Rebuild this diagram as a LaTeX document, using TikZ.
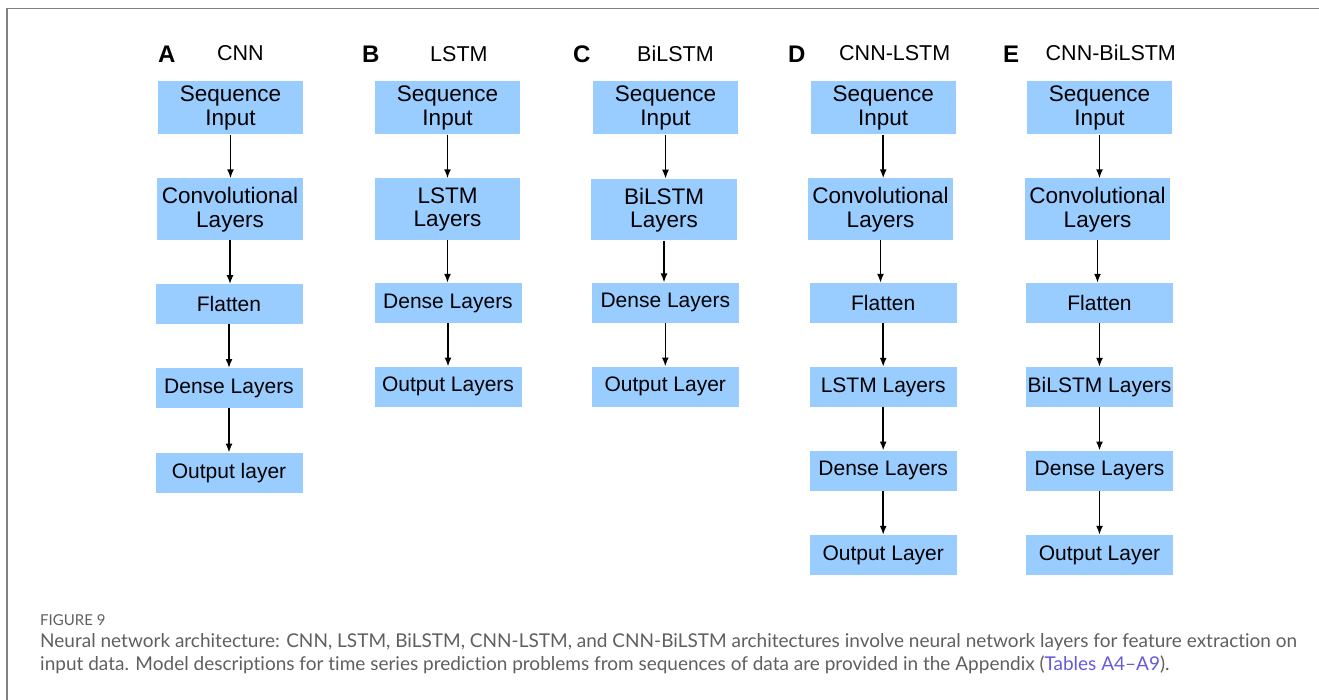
\documentclass[tikz,border=0pt]{standalone}
\usepackage{fontspec}
\setmainfont{Liberation Sans}
\newfontfamily\capfont[Ligatures={NoCommon}]{Lato}
\usetikzlibrary{arrows.meta}
\definecolor{boxblue}{RGB}{153,204,255}
\definecolor{framegray}{RGB}{128,128,128}
\definecolor{capgray}{RGB}{95,95,95}
\definecolor{linkblue}{RGB}{100,90,220}
\tikzset{
  layerbox/.style={fill=boxblue, draw=none, inner sep=0pt, align=center,
    font=\fontsize{21}{23.5}\selectfont, text=black},
  twoline/.style={font=\fontsize{22.5}{23.5}\selectfont, text depth=4pt},
  flowarrow/.style={draw=black, line width=1.6pt, -{Latex[length=9pt,width=7pt]}},
  panelletter/.style={anchor=base west, inner sep=0pt, font=\fontsize{24}{26}\selectfont\bfseries},
  paneltitle/.style={anchor=base west, inner sep=0pt, font=\fontsize{21.5}{23}\selectfont},
  captext/.style={anchor=base west, inner sep=0pt, text=capgray}
}
\begin{document}
\begin{tikzpicture}[x=1pt, y=-1pt]
\useasboundingbox (0,0) rectangle (1319,700);
% frame
\draw[framegray, line width=1.3pt] (7,700) -- (7,8.5) -- (1319,8.5);

% panel titles
\node[panelletter] (la) at (158,63) {A};
\node[paneltitle] (ta) at (217,60.5) {CNN};
\node[panelletter] (lb) at (362,63) {B};
\node[paneltitle] (tb) at (430,62) {LSTM};
\node[panelletter] (lc) at (573,63) {C};
\node[paneltitle] (tc) at (637,62) {BiLSTM};
\node[panelletter] (ld) at (788,63) {D};
\node[paneltitle] (td) at (839,60.7) {CNN-LSTM};
\node[panelletter] (le) at (1003,63) {E};
\node[paneltitle] (te) at (1045.5,60.7) {CNN-BiLSTM};

% column A
\node[layerbox, twoline, minimum width=145pt, minimum height=53.5pt] (a1) at (230.5,107.75) {Sequence\\Input};
\node[layerbox, twoline, minimum width=146pt, minimum height=61.5pt] (a2) at (230,209.25) {Convolutional\\Layers};
\node[layerbox, minimum width=147pt, minimum height=40pt] (a3) at (229,304.3) {Flatten};
\node[layerbox, minimum width=147pt, minimum height=40pt] (a4) at (229,388.2) {Dense Layers};
\node[layerbox, minimum width=147pt, minimum height=40pt] (a5) at (229,472.8) {Output layer};

% column B
\node[layerbox, twoline, minimum width=145pt, minimum height=53.5pt] (b1) at (447.5,107.75) {Sequence\\Input};
\node[layerbox, twoline, minimum width=145pt, minimum height=61.5pt] (b2) at (447.5,209.25) {LSTM\\Layers};
\node[layerbox, minimum width=147pt, minimum height=40pt] (b3) at (448,303) {Dense Layers};
\node[layerbox, minimum width=147pt, minimum height=40pt] (b4) at (448,386.7) {Output Layers};

% column C
\node[layerbox, twoline, minimum width=145pt, minimum height=53.5pt] (c1) at (665.5,107.75) {Sequence\\Input};
\node[layerbox, twoline, minimum width=145.5pt, minimum height=61.5pt] (c2) at (664,209.6) {BiLSTM\\Layers};
\node[layerbox, minimum width=146.5pt, minimum height=40pt] (c3) at (665.3,302.7) {Dense Layers};
\node[layerbox, minimum width=146.5pt, minimum height=40pt] (c4) at (665.3,386.7) {Output Layer};

% column D
\node[layerbox, twoline, minimum width=145pt, minimum height=53.5pt] (d1) at (883.2,107.75) {Sequence\\Input};
\node[layerbox, twoline, minimum width=145pt, minimum height=61.5pt] (d2) at (880.5,209.25) {Convolutional\\Layers};
\node[layerbox, minimum width=147pt, minimum height=40pt] (d3) at (883.2,303) {Flatten};
\node[layerbox, minimum width=147pt, minimum height=40pt] (d4) at (883.2,387) {LSTM Layers};
\node[layerbox, minimum width=147pt, minimum height=40pt] (d5) at (883.2,470.7) {Dense Layers};
\node[layerbox, minimum width=147pt, minimum height=40pt] (d6) at (883.2,555) {Output Layer};

% column E
\node[layerbox, twoline, minimum width=145pt, minimum height=53.5pt] (e1) at (1099.5,107.75) {Sequence\\Input};
\node[layerbox, twoline, minimum width=145pt, minimum height=61.5pt] (e2) at (1097.5,209.25) {Convolutional\\Layers};
\node[layerbox, minimum width=147.5pt, minimum height=40pt] (e3) at (1099.5,303) {Flatten};
\node[layerbox, minimum width=147.5pt, minimum height=40pt] (e4) at (1099.5,387) {BiLSTM Layers};
\node[layerbox, minimum width=147.5pt, minimum height=40pt] (e5) at (1099.5,470.7) {Dense Layers};
\node[layerbox, minimum width=147.5pt, minimum height=40pt] (e6) at (1099.5,555) {Output Layer};

% arrows
\foreach \u/\v in {a1/a2,a2/a3,a3/a4,a4/a5,b1/b2,b2/b3,b3/b4,c1/c2,c2/c3,c3/c4,d1/d2,d2/d3,d3/d4,d4/d5,d5/d6,e1/e2,e2/e3,e3/e4,e4/e5,e5/e6}
  \draw[flowarrow] (\u.south) -- (\u.south |- \v.north);

% caption
\node[captext, font=\capfont\fontsize{15}{17}\selectfont] (fig) at (40,625.5) {FIGURE 9};
\node[captext, font=\capfont\fontsize{19}{21}\selectfont] (cap1) at (40,647.5) {Neural network architecture: CNN, LSTM, BiLSTM, CNN-LSTM, and CNN-BiLSTM architectures involve neural network layers for feature extraction on};
\node[captext, font=\capfont\fontsize{19}{21}\selectfont] (cap2) at (40,670.5) {input data. Model descriptions for time series prediction problems from sequences of data are provided in the Appendix (\textcolor{linkblue}{Tables A4\textendash A9}).};
\end{tikzpicture}
\end{document}
